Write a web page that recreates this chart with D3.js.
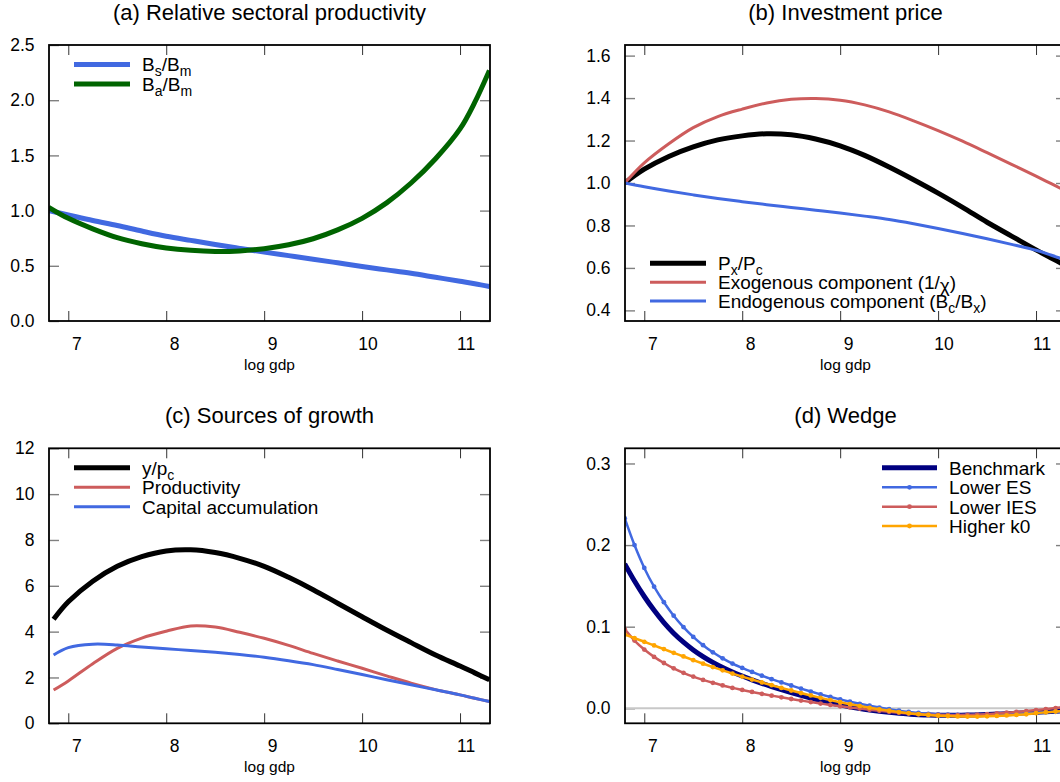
<!DOCTYPE html>
<html>
<head>
<meta charset="utf-8">
<script src="https://cdn.jsdelivr.net/npm/d3@7"></script>
<style>
  html, body { margin: 0; padding: 0; background: #fff; }
  svg { display: block; font-family: "Liberation Sans", Arial, Helvetica, sans-serif; }
</style>
</head>
<body>
<svg id="chart" width="1060" height="782"></svg>
<script>
// ---------- data ----------
// (a) Relative sectoral productivity
const gdpA = [6.8, 7.0, 7.25, 7.5, 7.75, 8.0, 8.25, 8.5, 8.75, 9.0, 9.25, 9.5, 9.75, 10.0, 10.25, 10.5, 10.75, 11.0, 11.15, 11.3];
const bsBm = [1.0, 0.96, 0.91, 0.865, 0.815, 0.768, 0.73, 0.693, 0.658, 0.624, 0.592, 0.56, 0.527, 0.494, 0.463, 0.432, 0.396, 0.36, 0.338, 0.313];
const baBm = [1.03, 0.93, 0.835, 0.755, 0.70, 0.662, 0.64, 0.63, 0.635, 0.655, 0.69, 0.745, 0.825, 0.93, 1.07, 1.25, 1.47, 1.74, 1.98, 2.27];

// (b) Investment price
const gdpB = [6.8, 7.0, 7.25, 7.5, 7.75, 8.0, 8.25, 8.5, 8.75, 9.0, 9.25, 9.5, 9.75, 10.0, 10.25, 10.5, 10.75, 11.0, 11.15, 11.3];
const pxPc = [1.0, 1.065, 1.125, 1.17, 1.203, 1.222, 1.232, 1.227, 1.207, 1.175, 1.13, 1.075, 1.015, 0.952, 0.885, 0.815, 0.75, 0.685, 0.648, 0.612];
const exogenous = [1.0, 1.095, 1.185, 1.261, 1.313, 1.348, 1.377, 1.394, 1.398, 1.39, 1.368, 1.335, 1.293, 1.247, 1.197, 1.143, 1.088, 1.032, 0.998, 0.963];
const endogenous = [1.0, 0.982, 0.962, 0.944, 0.927, 0.912, 0.898, 0.885, 0.872, 0.859, 0.844, 0.828, 0.808, 0.786, 0.762, 0.737, 0.711, 0.683, 0.661, 0.637];

// (c) Sources of growth
const gdpC = [6.85, 7.0, 7.25, 7.5, 7.75, 8.0, 8.25, 8.5, 8.75, 9.0, 9.25, 9.5, 9.75, 10.0, 10.25, 10.5, 10.75, 11.0, 11.15, 11.3];
const yPc = [4.54, 5.3, 6.2, 6.85, 7.27, 7.52, 7.57, 7.45, 7.2, 6.85, 6.37, 5.83, 5.24, 4.65, 4.07, 3.52, 2.98, 2.5, 2.2, 1.9];
const productivity = [1.45, 1.85, 2.6, 3.27, 3.72, 4.02, 4.25, 4.2, 3.97, 3.71, 3.4, 3.05, 2.72, 2.4, 2.07, 1.75, 1.47, 1.24, 1.09, 0.95];
const capitalAcc = [2.98, 3.3, 3.45, 3.42, 3.33, 3.25, 3.18, 3.1, 3.0, 2.88, 2.73, 2.56, 2.35, 2.13, 1.9, 1.68, 1.46, 1.24, 1.09, 0.95];

// (d) Wedge
const gdpD = [6.8, 6.9, 7.0, 7.1, 7.2, 7.3, 7.4, 7.5, 7.6, 7.7, 7.8, 7.9, 8.0, 8.1, 8.2, 8.3, 8.4, 8.5, 8.6, 8.7, 8.8, 8.9, 9.0,
              9.1, 9.2, 9.3, 9.4, 9.5, 9.6, 9.7, 9.8, 9.9, 10.0, 10.1, 10.2, 10.3, 10.4, 10.5, 10.6, 10.7, 10.8, 10.9, 11.0, 11.1, 11.2, 11.3];
const benchmark = [0.177, 0.156, 0.137, 0.120, 0.105, 0.092, 0.081, 0.0715, 0.0633, 0.0562, 0.050, 0.0445, 0.0395, 0.0349, 0.0306, 0.0266, 0.0228, 0.0192, 0.0158, 0.0126, 0.0096, 0.0068, 0.0042,
                   0.0019, -0.0002, -0.002, -0.0036, -0.005, -0.0062, -0.0071, -0.0078, -0.0083, -0.0085, -0.0086, -0.0085, -0.0083, -0.008, -0.0076, -0.0071, -0.0066, -0.006, -0.0054, -0.0048, -0.0042, -0.0036, -0.003];
const lowerES = [0.233, 0.200, 0.172, 0.149, 0.130, 0.1135, 0.0995, 0.0875, 0.0773, 0.0686, 0.0612, 0.0548, 0.0495, 0.0446, 0.040, 0.0357, 0.0317, 0.0279, 0.0241, 0.0205, 0.0171, 0.0139, 0.0109,
                 0.0081, 0.0055, 0.0031, 0.0009, -0.0011, -0.0029, -0.0045, -0.0058, -0.0068, -0.0075, -0.0079, -0.0081, -0.0081, -0.0079, -0.0076, -0.0072, -0.0068, -0.0063, -0.0058, -0.0053, -0.0048, -0.0043, -0.0038];
const lowerIES = [0.097, 0.083, 0.072, 0.063, 0.0555, 0.049, 0.0435, 0.0388, 0.0348, 0.0312, 0.028, 0.025, 0.0225, 0.020, 0.0177, 0.0155, 0.0134, 0.0114, 0.0095, 0.0076, 0.0058, 0.0041, 0.0025,
                  0.001, -0.0004, -0.0018, -0.0031, -0.0043, -0.0054, -0.0064, -0.0072, -0.0078, -0.0082, -0.0084, -0.0084, -0.0082, -0.0078, -0.0072, -0.0064, -0.0055, -0.0045, -0.0034, -0.0022, -0.001, 0.0003, 0.0016];
const higherK0 = [0.0905, 0.086, 0.0815, 0.077, 0.0725, 0.068, 0.0635, 0.059, 0.0547, 0.0505, 0.0465, 0.0425, 0.0388, 0.0352, 0.0317, 0.0283, 0.025, 0.0218, 0.0187, 0.0157, 0.0128, 0.01, 0.0074,
                  0.005, 0.0027, 0.0006, -0.0013, -0.003, -0.0046, -0.006, -0.0072, -0.0082, -0.009, -0.0096, -0.01, -0.0101, -0.0101, -0.0098, -0.0094, -0.0088, -0.0081, -0.0073, -0.006, -0.005, -0.004, -0.003];

// tick values
const xTicks = [7, 8, 9, 10, 11];
const yTicksA = [0, 0.5, 1.0, 1.5, 2.0, 2.5];
const yTicksB = [0.4, 0.6, 0.8, 1.0, 1.2, 1.4, 1.6];
const yTicksC = [0, 2, 4, 6, 8, 10, 12];
const yTicksD = [0, 0.1, 0.2, 0.3];

// ---------- layout ----------
const svg = d3.select("#chart");
const FONT_TICK = 17.5, FONT_TITLE = 22, FONT_LEG = 19, FONT_XLAB = 15.5;
const cols = [{ x0: 49, x1: 490 }, { x0: 625, x1: 1066 }];
const rows = [{ y0: 45, y1: 321 }, { y0: 448.3, y1: 723.3 }];
const xDomain = [6.803, 11.306];

const C = {
  blue: "#4169e1", green: "#006400", red: "#cd5c5c",
  black: "#000000", navy: "#000080", orange: "#ffa500"
};

let clipId = 0;

function drawPanel(cfg) {
  const { col, row } = cfg;
  const x0 = col.x0, x1 = col.x1, y0 = row.y0, y1 = row.y1;
  const x = d3.scaleLinear().domain(xDomain).range([x0, x1]);
  const y = d3.scaleLinear().domain(cfg.yDomain).range([y1, y0]);
  const g = svg.append("g");

  const id = "clip" + (clipId++);
  g.append("clipPath").attr("id", id).append("rect")
    .attr("x", x0).attr("y", y0).attr("width", x1 - x0).attr("height", y1 - y0);

  // axes with inward ticks, mirrored on the top and right
  const left = g.append("g").attr("transform", `translate(${x0},0)`)
    .call(d3.axisLeft(y).tickValues(cfg.yTicks).tickFormat(cfg.yFormat)
      .tickSizeInner(-10).tickSizeOuter(0).tickPadding(14.5));
  const right = g.append("g").attr("transform", `translate(${x1},0)`)
    .call(d3.axisRight(y).tickValues(cfg.yTicks).tickFormat("")
      .tickSizeInner(-10).tickSizeOuter(0));
  const bottom = g.append("g").attr("transform", `translate(0,${y1})`)
    .call(d3.axisBottom(x).tickValues(xTicks).tickFormat(d3.format("d"))
      .tickSizeInner(-10).tickSizeOuter(0).tickPadding(16.6));
  const top = g.append("g").attr("transform", `translate(0,${y0})`)
    .call(d3.axisTop(x).tickValues(xTicks).tickFormat("")
      .tickSizeInner(-10).tickSizeOuter(0));

  [left, right, bottom, top].forEach(a => {
    a.select(".domain").remove();
    a.attr("font-family", null).attr("font-size", FONT_TICK);
    a.selectAll("text").attr("fill", "#000");
  });
  [left, right].forEach(a => a.selectAll("line").attr("stroke", "#808080").attr("stroke-width", 1.4));
  [bottom, top].forEach(a => a.selectAll("line").attr("stroke", "#333").attr("stroke-width", 1));
  bottom.selectAll("text").attr("dx", d => d >= 10 ? 5.5 : 8);

  const plot = g.append("g").attr("clip-path", `url(#${id})`);

  if (cfg.zeroLine) {
    plot.append("line")
      .attr("x1", x0).attr("x2", x1).attr("y1", y(0)).attr("y2", y(0))
      .attr("stroke", "#c8c8c8").attr("stroke-width", 2);
  }

  cfg.series.forEach(s => {
    const pts = s.x.map((xv, i) => [xv, s.y[i]]);
    const line = d3.line().x(d => x(d[0])).y(d => y(d[1])).curve(d3.curveCatmullRom.alpha(0.5));
    plot.append("path").datum(pts)
      .attr("d", line).attr("fill", "none")
      .attr("stroke", s.color).attr("stroke-width", s.width)
      .attr("stroke-linejoin", "round");
    if (s.marker) {
      plot.append("g").selectAll("circle").data(pts).join("circle")
        .attr("cx", d => x(d[0])).attr("cy", d => y(d[1]))
        .attr("r", 2.4).attr("fill", s.color);
    }
  });

  // frame
  g.append("rect").attr("x", x0).attr("y", y0)
    .attr("width", x1 - x0).attr("height", y1 - y0)
    .attr("fill", "none").attr("stroke", "#000").attr("stroke-width", 1.8);

  // title and x label
  const cx = (x0 + x1) / 2;
  g.append("text").attr("x", cx).attr("y", y0 - 25)
    .attr("text-anchor", "middle").attr("font-size", FONT_TITLE).text(cfg.title);
  g.append("text").attr("x", cx).attr("y", y1 + 48.7)
    .attr("text-anchor", "middle").attr("font-size", FONT_XLAB).text("log gdp");

  // legend
  const L = cfg.legend;
  cfg.series.forEach((s, i) => {
    const ly = L.y[i];
    g.append("line").attr("x1", L.x0).attr("x2", L.x1).attr("y1", ly).attr("y2", ly)
      .attr("stroke", s.color).attr("stroke-width", s.width);
    if (s.marker) {
      g.append("circle").attr("cx", (L.x0 + L.x1) / 2).attr("cy", ly).attr("r", 2.4).attr("fill", s.color);
    }
    const t = g.append("text").attr("x", L.tx).attr("y", ly + 7).attr("font-size", FONT_LEG);
    let shift = 0;
    s.label.forEach(seg => {
      const target = seg.sub ? 5 : (seg.low ? 3 : 0);
      const ts = t.append("tspan").attr("dy", target - shift).text(seg.t);
      if (seg.sub) ts.attr("font-size", 14);
      shift = target;
    });
  });
}

const fmt1 = d3.format(".1f");

drawPanel({
  col: cols[0], row: rows[0], title: "(a) Relative sectoral productivity",
  yDomain: [0, 2.5], yTicks: yTicksA, yFormat: fmt1,
  legend: { x0: 74, x1: 130, tx: 142, y: [64.4, 84] },
  series: [
    { x: gdpA, y: bsBm, color: C.blue, width: 5,
      label: [{ t: "B" }, { t: "s", sub: true }, { t: "/B" }, { t: "m", sub: true }] },
    { x: gdpA, y: baBm, color: C.green, width: 5,
      label: [{ t: "B" }, { t: "a", sub: true }, { t: "/B" }, { t: "m", sub: true }] }
  ]
});

drawPanel({
  col: cols[1], row: rows[0], title: "(b) Investment price",
  yDomain: [0.35, 1.65], yTicks: yTicksB, yFormat: fmt1,
  legend: { x0: 650, x1: 706, tx: 718, y: [263.3, 282.3, 300.9] },
  series: [
    { x: gdpB, y: pxPc, color: C.black, width: 5,
      label: [{ t: "P" }, { t: "x", sub: true }, { t: "/P" }, { t: "c", sub: true }] },
    { x: gdpB, y: exogenous, color: C.red, width: 3,
      label: [{ t: "Exogenous component (1/" }, { t: "χ", low: true }, { t: ")" }] },
    { x: gdpB, y: endogenous, color: C.blue, width: 3,
      label: [{ t: "Endogenous component (B" }, { t: "c", sub: true }, { t: "/B" }, { t: "x", sub: true }, { t: ")" }] }
  ]
});

drawPanel({
  col: cols[0], row: rows[1], title: "(c) Sources of growth",
  yDomain: [0, 12], yTicks: yTicksC, yFormat: d3.format("d"),
  legend: { x0: 74, x1: 130, tx: 142, y: [467.7, 487.3, 506.7] },
  series: [
    { x: gdpC, y: yPc, color: C.black, width: 5,
      label: [{ t: "y/p" }, { t: "c", sub: true }] },
    { x: gdpC, y: productivity, color: C.red, width: 3,
      label: [{ t: "Productivity" }] },
    { x: gdpC, y: capitalAcc, color: C.blue, width: 3,
      label: [{ t: "Capital accumulation" }] }
  ]
});

drawPanel({
  col: cols[1], row: rows[1], title: "(d) Wedge",
  yDomain: [-0.0184, 0.3186], yTicks: yTicksD, yFormat: fmt1, zeroLine: true,
  legend: { x0: 882, x1: 937, tx: 949, y: [467.7, 487.3, 506.7, 526] },
  series: [
    { x: gdpD, y: benchmark, color: C.navy, width: 5, label: [{ t: "Benchmark" }] },
    { x: gdpD, y: lowerES, color: C.blue, width: 2.5, marker: true, label: [{ t: "Lower ES" }] },
    { x: gdpD, y: lowerIES, color: C.red, width: 2.5, marker: true, label: [{ t: "Lower IES" }] },
    { x: gdpD, y: higherK0, color: C.orange, width: 2.5, marker: true, label: [{ t: "Higher k0" }] }
  ]
});
</script>
</body>
</html>
